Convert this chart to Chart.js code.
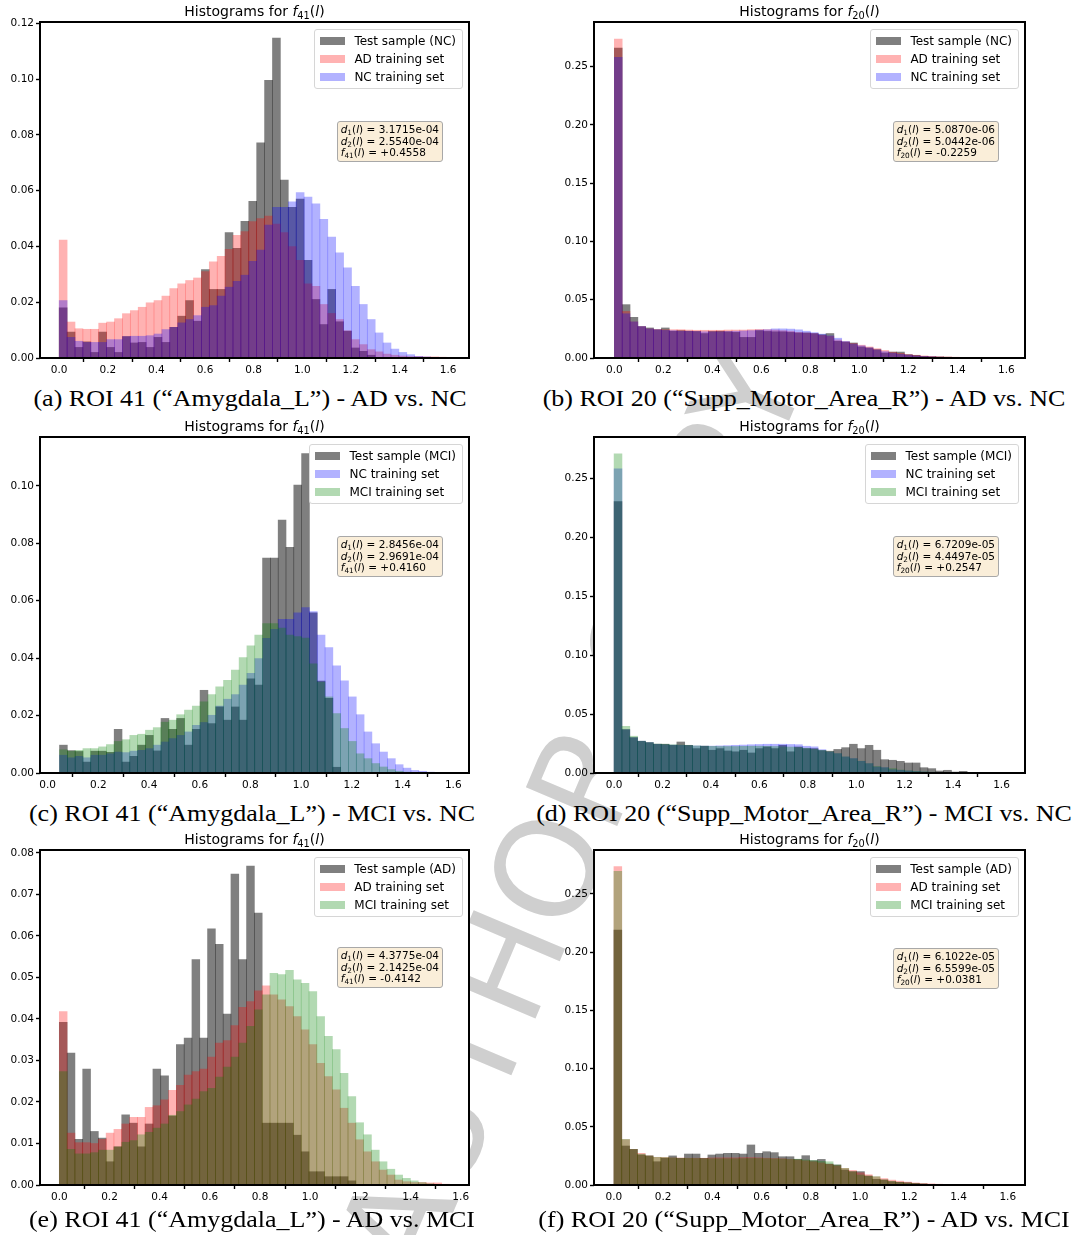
<!DOCTYPE html>
<html>
<head>
<meta charset="utf-8">
<title>Histograms for f41 and f20</title>
<script src="https://cdn.jsdelivr.net/npm/chart.js@4.4.1/dist/chart.umd.min.js"></script>
<style>
  body { margin: 0; background: #fff; }
  #page { position: relative; width: 1078px; height: 1235px; overflow: hidden; background: #fff; font-family: "DejaVu Sans", sans-serif; color: #000; }
  #stamp { position: absolute; left: 572px; top: 812px; transform: translate(-50%, -50%) rotate(-67deg); font: 136px "DejaVu Sans", sans-serif; color: #cfcfcf; white-space: nowrap; z-index: 0; }
  canvas { position: absolute; z-index: 1; }
  .title { position: absolute; z-index: 2; font-size: 14px; line-height: 15px; white-space: nowrap; transform: translateX(-50%); }
  .legend { position: absolute; z-index: 2; background: rgba(255,255,255,0.8); border: 1px solid #d6d6d6; border-radius: 3px; padding: 2px 6px 2px 5px; font-size: 12px; }
  .legend div { height: 18px; line-height: 18px; white-space: nowrap; }
  .legend .patch { display: inline-block; width: 25px; height: 8px; margin-right: 9px; vertical-align: middle; position: relative; top: -1px; }
  .stats { position: absolute; z-index: 2; background: rgba(245,222,179,0.5); border: 1px solid #a8a8a8; border-radius: 3px; padding: 2px 3px; font-size: 10.5px; line-height: 11.7px; white-space: nowrap; }
  sub { font-size: 0.7em; vertical-align: -0.3em; line-height: 0; }
  .caption { position: absolute; z-index: 2; font-family: "Liberation Serif", serif; font-size: 23px; white-space: nowrap; transform: translate(-50%, -50%) scaleX(1.13); }
</style>
</head>
<body>
<div id="page">
  <div id="stamp">AUTHOR COPY</div>
</div>
<script>
const page = document.querySelector("#page");

const xTicks = [0, 0.2, 0.4, 0.6, 0.8, 1.0, 1.2, 1.4, 1.6];
const yTicks_f41_adnc = [0, 0.02, 0.04, 0.06, 0.08, 0.10, 0.12];
const yTicks_f41_mcinc = [0, 0.02, 0.04, 0.06, 0.08, 0.10];
const yTicks_f41_admci = [0, 0.01, 0.02, 0.03, 0.04, 0.05, 0.06, 0.07, 0.08];
const yTicks_f20 = [0, 0.05, 0.10, 0.15, 0.20, 0.25];

// left edge of the first bin and the bin width
const bins_f41_adnc = [0, 0.0325];
const bins_f20_adnc = [0, 0.032];
const bins_f41_mcinc = [0.047, 0.0308];
const bins_f20_mcinc = [0, 0.0324];
const bins_f41_admci = [0, 0.0311];
const bins_f20_admci = [0, 0.0318];

// d1(l), d2(l), f(l)
const stats_f41_adnc = ["3.1715e-04", "2.5540e-04", "+0.4558"];
const stats_f20_adnc = ["5.0870e-06", "5.0442e-06", "-0.2259"];
const stats_f41_mcinc = ["2.8456e-04", "2.9691e-04", "+0.4160"];
const stats_f20_mcinc = ["6.7209e-05", "4.4497e-05", "+0.2547"];
const stats_f41_admci = ["4.3775e-04", "2.1425e-04", "-0.4142"];
const stats_f20_admci = ["6.1022e-05", "6.5599e-05", "+0.0381"];

// bin heights (fraction of samples per bin)
const f41_adnc_test = [0.018, 0.0093, 0.0038, 0.0058, 0.002, 0.0093, 0.0038, 0.002, 0.0077, 0.0054,
  0.0056, 0.0038, 0.0074, 0.0056, 0.011, 0.015, 0.0206, 0.0132, 0.0317, 0.0246,
  0.0246, 0.045, 0.0393, 0.049, 0.0562, 0.0772, 0.0996, 0.1147, 0.0638, 0.054,
  0.057, 0.035, 0.021, 0.012, 0.0246, 0.013, 0.0096, 0.0036, 0.0024, 0.001];
const f41_adnc_ad = [0.0423, 0.0129, 0.0105, 0.0103, 0.0103, 0.0125, 0.0129, 0.0141, 0.0159, 0.017,
  0.0182, 0.0198, 0.0206, 0.0222, 0.0249, 0.0266, 0.0278, 0.0287, 0.031, 0.0345,
  0.0365, 0.039, 0.044, 0.0453, 0.0489, 0.05, 0.0509, 0.048, 0.045, 0.04,
  0.035, 0.0266, 0.0257, 0.0192, 0.016, 0.0138, 0.0098, 0.0066, 0.0048, 0.003,
  0.0022, 0.0014, 0.001, 0.0007, 0.0005, 0.0005, 0.0004, 0.0004, 0.0003, 0.0002];
const f41_adnc_nc = [0.0206, 0.0074, 0.006, 0.0056, 0.0056, 0.0056, 0.0066, 0.0066, 0.0077, 0.0078,
  0.0078, 0.008, 0.0086, 0.0102, 0.011, 0.0126, 0.0138, 0.0152, 0.0182, 0.0188,
  0.0222, 0.0254, 0.0275, 0.0297, 0.0347, 0.0387, 0.0477, 0.054, 0.054, 0.056,
  0.0593, 0.0577, 0.0553, 0.0497, 0.0434, 0.0377, 0.0323, 0.0257, 0.0192, 0.0138,
  0.009, 0.0054, 0.0032, 0.002, 0.0012, 0.0006, 0.0004, 0.0002, 0.0001];

const f20_adnc_test = [0.266, 0.0458, 0.0349, 0.027, 0.0258, 0.0243, 0.0258, 0.023, 0.0235, 0.023,
  0.0228, 0.021, 0.0228, 0.023, 0.0225, 0.022, 0.0177, 0.0177, 0.0235, 0.0228,
  0.0225, 0.0225, 0.022, 0.0215, 0.0215, 0.021, 0.02, 0.021, 0.0143, 0.0137,
  0.0129, 0.0095, 0.0086, 0.0072, 0.0043, 0.0051, 0.0051, 0.0029, 0.0023, 0.0014,
  0.0011, 0.0009, 0.0007, 0.0005, 0.0004];
const f20_adnc_ad = [0.2738, 0.04, 0.031, 0.027, 0.025, 0.0245, 0.0243, 0.0243, 0.0243, 0.024,
  0.0238, 0.0238, 0.0238, 0.0238, 0.024, 0.024, 0.024, 0.0243, 0.0245, 0.0243,
  0.024, 0.0235, 0.023, 0.022, 0.0215, 0.021, 0.0195, 0.0185, 0.0155, 0.014,
  0.0125, 0.011, 0.0095, 0.008, 0.0065, 0.005, 0.004, 0.003, 0.0024, 0.0018,
  0.0014, 0.0011, 0.0009, 0.0007, 0.0005, 0.0004, 0.0003, 0.0002, 0.0001];
const f20_adnc_nc = [0.258, 0.038, 0.031, 0.027, 0.025, 0.0243, 0.0237, 0.0235, 0.023, 0.023,
  0.0228, 0.0225, 0.0225, 0.0225, 0.0228, 0.023, 0.0232, 0.0235, 0.024, 0.0243,
  0.025, 0.025, 0.0248, 0.0242, 0.023, 0.0218, 0.0205, 0.019, 0.017, 0.0142,
  0.012, 0.0105, 0.0088, 0.007, 0.0055, 0.0042, 0.0032, 0.0025, 0.0018, 0.0013,
  0.001, 0.0007, 0.0005, 0.0004, 0.0003, 0.0002, 0.0001];

const f41_mcinc_test = [0.0097, 0.0078, 0.0075, 0.0038, 0.0076, 0.0076, 0.0072, 0.0152, 0.0038, 0.0058,
  0.0097, 0.0131, 0.0077, 0.019, 0.0152, 0.019, 0.0097, 0.0152, 0.0288, 0.0172,
  0.023, 0.0184, 0.023, 0.0184, 0.0328, 0.0306, 0.0748, 0.0748, 0.0881, 0.0786,
  0.1003, 0.1112, 0.0558, 0.032, 0.026, 0.002];
const f41_mcinc_nc = [0.0062, 0.0053, 0.0058, 0.0053, 0.0062, 0.0062, 0.0067, 0.0073, 0.0071, 0.0076,
  0.0079, 0.0085, 0.0097, 0.0108, 0.012, 0.0131, 0.0143, 0.0166, 0.0176, 0.0201,
  0.0233, 0.0257, 0.0273, 0.0306, 0.0347, 0.0398, 0.0469, 0.05, 0.0535, 0.0535,
  0.0558, 0.0576, 0.0562, 0.048, 0.0437, 0.0373, 0.0321, 0.0265, 0.0203, 0.0143,
  0.0102, 0.0073, 0.005, 0.0029, 0.0017, 0.0009, 0.0006, 0.0003];
const f41_mcinc_mci = [0.0081, 0.0076, 0.0079, 0.0085, 0.0085, 0.0091, 0.0099, 0.011, 0.0116, 0.0131,
  0.0135, 0.0149, 0.0158, 0.0177, 0.0184, 0.0203, 0.0219, 0.0233, 0.0248, 0.0273,
  0.03, 0.0323, 0.0358, 0.0402, 0.0443, 0.048, 0.052, 0.052, 0.0505, 0.048,
  0.0475, 0.047, 0.038, 0.0317, 0.0265, 0.0207, 0.0155, 0.011, 0.0067, 0.005,
  0.0033, 0.0021, 0.0012, 0.0006, 0.0003];

const f20_mcinc_test = [0.2302, 0.0368, 0.03, 0.0269, 0.0258, 0.0244, 0.0244, 0.0235, 0.0263, 0.0235,
  0.0207, 0.0227, 0.0193, 0.0207, 0.0187, 0.018, 0.0193, 0.017, 0.0207, 0.0221,
  0.0207, 0.0235, 0.018, 0.0221, 0.0207, 0.0207, 0.019, 0.0185, 0.02, 0.0215,
  0.0244, 0.0207, 0.0235, 0.0193, 0.0113, 0.0108, 0.0099, 0.0085, 0.0085, 0.0045,
  0.0037, 0.0017, 0.0023, 0.0008, 0.0014];
const f20_mcinc_nc = [0.258, 0.0368, 0.03, 0.027, 0.0258, 0.0244, 0.024, 0.0237, 0.0235, 0.0233,
  0.023, 0.0228, 0.0228, 0.023, 0.0232, 0.0235, 0.0237, 0.024, 0.0242, 0.0244,
  0.0244, 0.0244, 0.0242, 0.024, 0.0227, 0.0222, 0.0198, 0.0178, 0.0164, 0.0136,
  0.0122, 0.0099, 0.0079, 0.0051, 0.0045, 0.0028, 0.0023, 0.0017, 0.0012, 0.0008,
  0.0006, 0.0004, 0.0003, 0.0002, 0.0001];
const f20_mcinc_mci = [0.2707, 0.0396, 0.0312, 0.027, 0.0258, 0.0246, 0.0244, 0.024, 0.0237, 0.0235,
  0.023, 0.0228, 0.0226, 0.0225, 0.0225, 0.0225, 0.0226, 0.0227, 0.0227, 0.0226,
  0.0225, 0.0222, 0.022, 0.0216, 0.021, 0.0202, 0.0192, 0.018, 0.0165, 0.0137,
  0.0122, 0.01, 0.008, 0.0055, 0.0045, 0.0037, 0.0025, 0.0019, 0.0014, 0.001,
  0.0007, 0.0005, 0.0004, 0.0003, 0.0002, 0.0001];

const f41_admci_test = [0.0392, 0.0318, 0.011, 0.0279, 0.0129, 0.0113, 0.0056, 0.0092, 0.0169, 0.0149,
  0.0092, 0.0147, 0.0279, 0.0263, 0.0166, 0.0338, 0.0354, 0.0543, 0.0354, 0.0617,
  0.058, 0.0412, 0.0749, 0.0543, 0.0768, 0.0655, 0.0149, 0.0149, 0.0149, 0.0149,
  0.012, 0.008, 0.0032, 0.0032, 0.002, 0.002, 0.002, 0.001];
const f41_admci_ad = [0.0418, 0.0125, 0.0102, 0.0102, 0.01, 0.011, 0.0125, 0.0134, 0.0147, 0.0163,
  0.0163, 0.0187, 0.0191, 0.0205, 0.0228, 0.024, 0.0265, 0.0273, 0.0279, 0.0308,
  0.0342, 0.0348, 0.0384, 0.0428, 0.0442, 0.0468, 0.048, 0.0458, 0.0446, 0.043,
  0.0406, 0.0374, 0.0338, 0.0293, 0.0261, 0.0229, 0.0185, 0.0149, 0.0109, 0.008,
  0.0056, 0.0036, 0.0024, 0.0012, 0.0008, 0.0006, 0.0006, 0.0005, 0.0005, 0.0002];
const f41_admci_mci = [0.0273, 0.0086, 0.0075, 0.0075, 0.0078, 0.0084, 0.0084, 0.0092, 0.0103, 0.0107,
  0.0121, 0.0127, 0.0137, 0.0147, 0.0168, 0.0177, 0.0193, 0.0207, 0.0225, 0.0233,
  0.026, 0.0284, 0.0308, 0.0342, 0.0382, 0.0422, 0.0458, 0.051, 0.0507, 0.0517,
  0.0494, 0.0486, 0.0466, 0.0406, 0.0358, 0.0326, 0.0269, 0.0213, 0.015, 0.0121,
  0.0084, 0.0056, 0.0038, 0.0024, 0.0016, 0.001, 0.0006, 0.0003, 0.0001];

const f20_admci_test = [0.219, 0.0335, 0.0306, 0.0258, 0.025, 0.02, 0.0229, 0.025, 0.0229, 0.0266,
  0.0266, 0.0229, 0.0258, 0.0266, 0.0272, 0.0272, 0.0266, 0.0344, 0.0272, 0.0286,
  0.0278, 0.0243, 0.0243, 0.022, 0.0252, 0.0209, 0.022, 0.018, 0.0172, 0.0129,
  0.0115, 0.0115, 0.0077, 0.0049, 0.0043, 0.0029, 0.0023, 0.002, 0.0014, 0.0009, 0.0005];
const f20_admci_ad = [0.2735, 0.039, 0.0306, 0.0272, 0.025, 0.0238, 0.0238, 0.0233, 0.0232, 0.023,
  0.023, 0.023, 0.0232, 0.0233, 0.0233, 0.0233, 0.0235, 0.0235, 0.0233, 0.023,
  0.0228, 0.0225, 0.022, 0.0215, 0.0208, 0.02, 0.019, 0.0178, 0.0165, 0.0143,
  0.0125, 0.0105, 0.0088, 0.007, 0.0055, 0.0042, 0.0033, 0.0025, 0.0018, 0.0013,
  0.001, 0.0007, 0.0005, 0.0003, 0.0002];
const f20_admci_mci = [0.2695, 0.0392, 0.0306, 0.0265, 0.025, 0.0238, 0.0237, 0.0233, 0.023, 0.0229,
  0.0228, 0.0227, 0.0226, 0.0226, 0.0226, 0.0226, 0.0227, 0.0228, 0.0228, 0.0227,
  0.0225, 0.0223, 0.022, 0.0222, 0.0215, 0.021, 0.0203, 0.02, 0.0172, 0.0143,
  0.0115, 0.0086, 0.0077, 0.0072, 0.0045, 0.0032, 0.0024, 0.0018, 0.0013, 0.0009,
  0.0006, 0.0004, 0.0002, 0.0001];

const col = {
  test: "rgba(0, 0, 0, 0.5)",
  AD: "rgba(255, 0, 0, 0.3)",
  NC: "rgba(0, 0, 255, 0.3)",
  MCI: "rgba(0, 128, 0, 0.3)",
};

// plot: chart area [left, top, right, bottom] in page pixels
const panels = [
  { caption: "(a) ROI 41 (“Amygdala_L”) - AD vs. NC", feat: "41", plot: [40, 22, 469, 358], cap: [250, 399],
    xr: [-0.079, 1.686], ymax: 0.1205, yTicks: yTicks_f41_adnc, bins: bins_f41_adnc, stats: stats_f41_adnc, statsTop: 99,
    series: [["Test sample (NC)", f41_adnc_test, col.test], ["AD training set", f41_adnc_ad, col.AD], ["NC training set", f41_adnc_nc, col.NC]] },
  { caption: "(b) ROI 20 (“Supp_Motor_Area_R”) - AD vs. NC", feat: "20", plot: [594, 22, 1025, 358], cap: [804, 399],
    xr: [-0.083, 1.676], ymax: 0.2884, yTicks: yTicks_f20, bins: bins_f20_adnc, stats: stats_f20_adnc, statsTop: 99,
    series: [["Test sample (NC)", f20_adnc_test, col.test], ["AD training set", f20_adnc_ad, col.AD], ["NC training set", f20_adnc_nc, col.NC]] },
  { caption: "(c) ROI 41 (“Amygdala_L”) - MCI vs. NC", feat: "41", plot: [40, 437, 469, 773], cap: [252, 814],
    xr: [-0.030, 1.662], ymax: 0.117, yTicks: yTicks_f41_mcinc, bins: bins_f41_mcinc, stats: stats_f41_mcinc, statsTop: 99,
    series: [["Test sample (MCI)", f41_mcinc_test, col.test], ["NC training set", f41_mcinc_nc, col.NC], ["MCI training set", f41_mcinc_mci, col.MCI]] },
  { caption: "(d) ROI 20 (“Supp_Motor_Area_R”) - MCI vs. NC", feat: "20", plot: [594, 437, 1025, 773], cap: [804, 814],
    xr: [-0.083, 1.697], ymax: 0.285, yTicks: yTicks_f20, bins: bins_f20_mcinc, stats: stats_f20_mcinc, statsTop: 99,
    series: [["Test sample (MCI)", f20_mcinc_test, col.test], ["NC training set", f20_mcinc_nc, col.NC], ["MCI training set", f20_mcinc_mci, col.MCI]] },
  { caption: "(e) ROI 41 (“Amygdala_L”) - AD vs. MCI", feat: "41", plot: [40, 850, 469, 1185], cap: [252, 1220],
    xr: [-0.077, 1.633], ymax: 0.0807, yTicks: yTicks_f41_admci, bins: bins_f41_admci, stats: stats_f41_admci, statsTop: 97,
    series: [["Test sample (AD)", f41_admci_test, col.test], ["AD training set", f41_admci_ad, col.AD], ["MCI training set", f41_admci_mci, col.MCI]] },
  { caption: "(f) ROI 20 (“Supp_Motor_Area_R”) - AD vs. MCI", feat: "20", plot: [594, 850, 1025, 1185], cap: [804, 1220],
    xr: [-0.081, 1.67], ymax: 0.2878, yTicks: yTicks_f20, bins: bins_f20_admci, stats: stats_f20_admci, statsTop: 98,
    series: [["Test sample (AD)", f20_admci_test, col.test], ["AD training set", f20_admci_ad, col.AD], ["MCI training set", f20_admci_mci, col.MCI]] },
];

// white axes background under the bars, black frame on top
const plotFrame = {
  id: "plotFrame",
  beforeDraw(chart) {
    const a = chart.chartArea;
    const ctx = chart.ctx;
    ctx.save();
    ctx.fillStyle = "#fff";
    ctx.fillRect(a.left, a.top, a.right - a.left, a.bottom - a.top);
    ctx.restore();
  },
  afterDraw(chart) {
    const a = chart.chartArea;
    const ctx = chart.ctx;
    ctx.save();
    ctx.strokeStyle = "#000";
    ctx.lineWidth = 2;
    ctx.strokeRect(a.left, a.top, a.right - a.left, a.bottom - a.top);
    ctx.restore();
  },
};

const tickFont = { family: "DejaVu Sans", size: 10.5 };

function addBox(cls, html, css) {
  const el = document.createElement("div");
  el.className = cls;
  el.innerHTML = html;
  Object.assign(el.style, css);
  page.appendChild(el);
  return el;
}

function drawPanel(p) {
  const [left, top, right, bottom] = p.plot;
  const canvas = document.createElement("canvas");
  canvas.width = right - left + 50;
  canvas.height = bottom - top + 38;
  canvas.style.left = `${left - 40}px`;
  canvas.style.top = `${top - 10}px`;
  page.appendChild(canvas);

  const [start, width] = p.bins;
  const n = p.series.length;
  const datasets = p.series.map(([label, values, color], i) => ({
    label: label,
    data: values.map((v, k) => ({ x: start + (k + 0.5) * width, y: v })),
    backgroundColor: color,
    borderWidth: 0,
    barPercentage: 1,
    categoryPercentage: 1,
    grouped: false,
    order: n - i,
  }));

  new Chart(canvas, {
    type: "bar",
    data: { datasets: datasets },
    options: {
      responsive: false,
      animation: false,
      events: [],
      layout: { padding: { left: 0, top: 10, right: 10, bottom: 0 } },
      plugins: { legend: { display: false }, tooltip: { enabled: false } },
      scales: {
        x: {
          type: "linear",
          min: p.xr[0],
          max: p.xr[1],
          offset: false,
          border: { display: false },
          grid: { drawOnChartArea: false, tickLength: 4, tickColor: "#000", tickWidth: 1.4 },
          ticks: { autoSkip: false, maxRotation: 0, padding: 2, color: "#000", font: tickFont, callback: (v) => v.toFixed(1) },
          afterBuildTicks: (s) => { s.ticks = xTicks.map((v) => ({ value: v })); },
          afterFit: (s) => { s.height = 28; },
        },
        y: {
          min: 0,
          max: p.ymax,
          border: { display: false },
          grid: { drawOnChartArea: false, tickLength: 4, tickColor: "#000", tickWidth: 1.4 },
          ticks: { autoSkip: false, padding: 2, color: "#000", font: tickFont, callback: (v) => v.toFixed(2) },
          afterBuildTicks: (s) => { s.ticks = p.yTicks.map((v) => ({ value: v })); },
          afterFit: (s) => { s.width = 40; },
        },
      },
    },
    plugins: [plotFrame],
  });

  addBox("title", `Histograms for <i>f</i><sub>${p.feat}</sub>(<i>l</i>)`,
    { left: `${(left + right) / 2}px`, top: `${top - 18}px` });

  const rows = p.series.map(([label, , color]) =>
    `<div><span class="patch" style="background:${color}"></span>${label}</div>`).join("");
  addBox("legend", rows, { right: `${1078 - right + 6}px`, top: `${top + 7}px` });

  const [d1, d2, f] = p.stats;
  addBox("stats",
    `<i>d</i><sub>1</sub>(<i>l</i>) = ${d1}<br><i>d</i><sub>2</sub>(<i>l</i>) = ${d2}<br><i>f</i><sub>${p.feat}</sub>(<i>l</i>) = ${f}`,
    { right: `${1078 - right + 26}px`, top: `${top + p.statsTop}px` });

  addBox("caption", p.caption, { left: `${p.cap[0]}px`, top: `${p.cap[1]}px` });
}

panels.forEach(drawPanel);
</script>
</body>
</html>
